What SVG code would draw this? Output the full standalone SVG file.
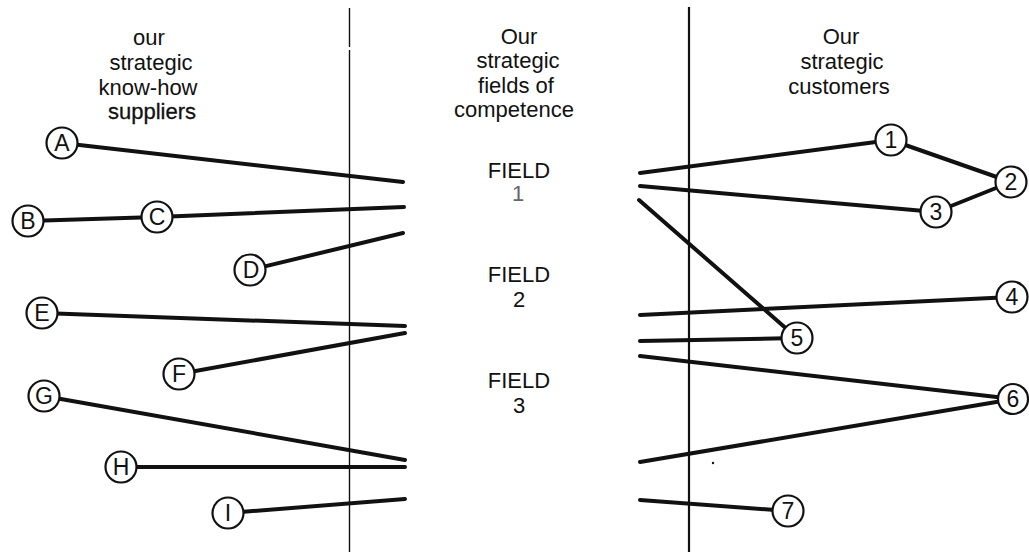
<svg xmlns="http://www.w3.org/2000/svg" width="1029" height="554" viewBox="0 0 1029 554">
  <style>
    text { font-family: "Liberation Sans", Arial, sans-serif; fill: #111; text-anchor: middle; }
    .head { font-size: 22px; }
    .bold { stroke: #111; stroke-width: 0.3px; }
    .field { font-size: 22px; }
    .num-light { fill: #666; }
    .node circle { fill: #fff; stroke: #111; stroke-width: 2.2; }
    .node text { font-size: 23px; }
    .link { stroke: #111; stroke-width: 4; stroke-linecap: round; fill: none; }
    .divider { stroke: #111; fill: none; }
  </style>

  <rect width="1029" height="554" fill="#fff"/>

  <!-- column dividers -->
  <g id="dividers">
    <path class="divider" stroke-width="1.4" d="M349.5 8 V47 M349.5 50 V552"/>
    <path class="divider" stroke-width="2.2" d="M689 7 V552"/>
  </g>

  <!-- column headings -->
  <g id="heading-suppliers" class="head">
    <text x="149" y="45">our</text>
    <text x="151" y="70">strategic</text>
    <text x="148" y="95">know-how</text>
    <text x="152" y="119" class="bold">suppliers</text>
  </g>
  <g id="heading-competence" class="head">
    <text x="519" y="44">Our</text>
    <text x="518" y="68">strategic</text>
    <text x="516" y="93">fields of</text>
    <text x="514" y="117">competence</text>
  </g>
  <g id="heading-customers" class="head">
    <text x="841" y="44">Our</text>
    <text x="842" y="69">strategic</text>
    <text x="839" y="94">customers</text>
  </g>

  <!-- fields of competence -->
  <g id="field-1" class="field">
    <text x="519" y="178">FIELD</text>
    <text x="518" y="201" class="num-light">1</text>
  </g>
  <g id="field-2" class="field">
    <text x="519" y="282">FIELD</text>
    <text x="519" y="307">2</text>
  </g>
  <g id="field-3" class="field">
    <text x="519" y="388">FIELD</text>
    <text x="519" y="413">3</text>
  </g>

  <!-- connectors -->
  <g id="connectors" class="link">
    <!-- suppliers to fields -->
    <line x1="62" y1="143" x2="403" y2="182"/>
    <line x1="28" y1="221" x2="157" y2="217"/>
    <line x1="157" y1="217" x2="404" y2="207"/>
    <line x1="250" y1="270" x2="403" y2="233"/>
    <line x1="42" y1="313" x2="405" y2="326"/>
    <line x1="179" y1="374" x2="405" y2="333"/>
    <line x1="44" y1="396" x2="405" y2="460"/>
    <line x1="121" y1="467" x2="405" y2="467"/>
    <line x1="228" y1="513" x2="405" y2="499"/>
    <!-- fields to customers -->
    <line x1="640" y1="173" x2="891" y2="140"/>
    <line x1="891" y1="140" x2="1011" y2="182"/>
    <line x1="640" y1="186" x2="936" y2="212"/>
    <line x1="936" y1="212" x2="1011" y2="182"/>
    <line x1="639" y1="200" x2="797" y2="338"/>
    <line x1="640" y1="315" x2="1012" y2="297"/>
    <line x1="640" y1="341" x2="797" y2="338"/>
    <line x1="640" y1="356" x2="1014" y2="399"/>
    <line x1="640" y1="462" x2="1014" y2="399"/>
    <line x1="640" y1="500" x2="788" y2="511"/>
  </g>

  <circle cx="713" cy="463" r="1.2" fill="#111"/>

  <!-- know-how suppliers -->
  <g id="supplier-A" class="node"><circle cx="62" cy="143" r="15.5"/><text x="62" y="151">A</text></g>
  <g id="supplier-B" class="node"><circle cx="28" cy="221" r="15.5"/><text x="28" y="229">B</text></g>
  <g id="supplier-C" class="node"><circle cx="157" cy="217" r="15.5"/><text x="157" y="225">C</text></g>
  <g id="supplier-D" class="node"><circle cx="250" cy="270" r="15.5"/><text x="251" y="278">D</text></g>
  <g id="supplier-E" class="node"><circle cx="42" cy="313" r="15.5"/><text x="42" y="321">E</text></g>
  <g id="supplier-F" class="node"><circle cx="179" cy="374" r="15.5"/><text x="179" y="382">F</text></g>
  <g id="supplier-G" class="node"><circle cx="44" cy="396" r="15.5"/><text x="44" y="404">G</text></g>
  <g id="supplier-H" class="node"><circle cx="121" cy="467" r="15.5"/><text x="121" y="475">H</text></g>
  <g id="supplier-I" class="node"><circle cx="228" cy="513" r="15.5"/><text x="228" y="521">I</text></g>

  <!-- strategic customers -->
  <g id="customer-1" class="node"><circle cx="891" cy="140" r="15.5"/><text x="891" y="148">1</text></g>
  <g id="customer-2" class="node"><circle cx="1011" cy="182" r="15.5"/><text x="1011" y="190">2</text></g>
  <g id="customer-3" class="node"><circle cx="936" cy="212" r="15.5"/><text x="936" y="220">3</text></g>
  <g id="customer-4" class="node"><circle cx="1012" cy="297" r="15.5"/><text x="1012" y="305">4</text></g>
  <g id="customer-5" class="node"><circle cx="797" cy="338" r="15.5"/><text x="797" y="346">5</text></g>
  <g id="customer-6" class="node"><circle cx="1013" cy="399" r="15"/><text x="1013" y="407">6</text></g>
  <g id="customer-7" class="node"><circle cx="788" cy="511" r="15.5"/><text x="788" y="519">7</text></g>
</svg>
